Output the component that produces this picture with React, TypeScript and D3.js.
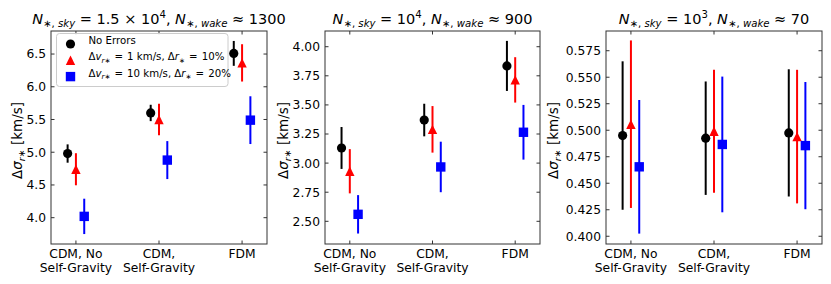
import React from "react";
import * as d3 from "d3";

// categories on the x axis (one array of lines per category)
const categoryLines = [["CDM, No", "Self-Gravity"], ["CDM,", "Self-Gravity"], ["FDM"]];
const categoryIndex = [0, 1, 2];

// N_sky = 1.5e4
const sky15kNoErrors = [4.98, 5.6, 6.51];
const sky15kNoErrorsErr = [0.14, 0.125, 0.19];
const sky15kSmall = [4.74, 5.5, 6.365];
const sky15kSmallErr = [0.245, 0.24, 0.285];
const sky15kLarge = [4.02, 4.88, 5.49];
const sky15kLargeErr = [0.27, 0.29, 0.365];

// N_sky = 1e4
const sky10kNoErrors = [3.13, 3.37, 3.835];
const sky10kNoErrorsErr = [0.18, 0.14, 0.215];
const sky10kSmall = [2.93, 3.29, 3.715];
const sky10kSmallErr = [0.19, 0.2, 0.195];
const sky10kLarge = [2.56, 2.967, 3.265];
const sky10kLargeErr = [0.165, 0.217, 0.235];

// N_sky = 1e3
const sky1kNoErrors = [0.495, 0.4925, 0.4975];
const sky1kNoErrorsErr = [0.07, 0.0535, 0.06];
const sky1kSmall = [0.5057, 0.499, 0.494];
const sky1kSmallErr = [0.079, 0.058, 0.063];
const sky1kLarge = [0.4655, 0.4866, 0.4855];
const sky1kLargeErr = [0.063, 0.064, 0.06];

// tick values
const ticks15k = [4.0, 4.5, 5.0, 5.5, 6.0, 6.5];
const ticks10k = [2.5, 2.75, 3.0, 3.25, 3.5, 3.75, 4.0];
const ticks1k = [0.4, 0.425, 0.45, 0.475, 0.5, 0.525, 0.55, 0.575];

const seriesColors = ["#000000", "#ff0000", "#0000ff"];
const seriesShapes = ["circle", "triangle", "square"];
const seriesOffsets = [-0.1, 0, 0.1];

type Seg = { t: string; it?: boolean; sub?: boolean; sup?: boolean };

const EQ = "\u2009\u2009=\u2009\u2009";

const legendLabels: Seg[][] = [
  [{ t: "No Errors" }],
  [
    { t: "Δ" }, { t: "v", it: true }, { t: "r", it: true, sub: true }, { t: "∗", sub: true },
    { t: EQ + "1 km/s, Δ" }, { t: "r", it: true }, { t: "∗", sub: true }, { t: EQ + "10%" },
  ],
  [
    { t: "Δ" }, { t: "v", it: true }, { t: "r", it: true, sub: true }, { t: "∗", sub: true },
    { t: EQ + "10 km/s, Δ" }, { t: "r", it: true }, { t: "∗", sub: true }, { t: EQ + "20%" },
  ],
];

const yLabel: Seg[] = [
  { t: "Δ" }, { t: "σ", it: true }, { t: "r", it: true, sub: true }, { t: "∗", sub: true }, { t: " [km/s]" },
];

const titleFor = (sky: Seg[], wake: string): Seg[] => [
  { t: "N", it: true }, { t: "∗, ", sub: true }, { t: "sky", sub: true, it: true },
  ...sky,
  { t: ", " },
  { t: "N", it: true }, { t: "∗, ", sub: true }, { t: "wake", sub: true, it: true },
  { t: " ≈ " + wake },
];

const FONT = "DejaVu Sans, sans-serif";

function MathSegs({ segs, size }: { segs: Seg[]; size: number }) {
  let shift = 0;
  return (
    <>
      {segs.map((s, i) => {
        const target = s.sub ? size * 0.22 : s.sup ? -size * 0.42 : 0;
        const dy = target - shift;
        shift = target;
        return (
          <tspan
            key={i}
            dy={dy}
            fontStyle={s.it ? "italic" : "normal"}
            fontSize={s.sub || s.sup ? size * 0.7 : size}
          >
            {s.t}
          </tspan>
        );
      })}
    </>
  );
}

function Marker({ shape, color, x, y }: { shape: string; color: string; x: number; y: number }) {
  if (shape === "circle") return <circle cx={x} cy={y} r={4.6} fill={color} />;
  if (shape === "square") return <rect x={x - 4.7} y={y - 4.7} width={9.4} height={9.4} fill={color} />;
  const s = 4.7;
  return <path d={`M${x},${y - s}L${x - s},${y + s}L${x + s},${y + s}Z`} fill={color} />;
}

type Panel = {
  left: number;
  right: number;
  yDomain: [number, number];
  ticks: number[];
  fmt: string;
  values: number[][];
  errs: number[][];
  title: Seg[];
  yLabelOffset: number;
  legend?: boolean;
};

const panels: Panel[] = [
  {
    left: 51, right: 267, yDomain: [3.598, 6.852], ticks: ticks15k, fmt: ".1f",
    values: [sky15kNoErrors, sky15kSmall, sky15kLarge],
    errs: [sky15kNoErrorsErr, sky15kSmallErr, sky15kLargeErr],
    title: titleFor([{ t: " = 1.5 × 10" }, { t: "4", sup: true }], "1300"),
    yLabelOffset: 29, legend: true,
  },
  {
    left: 325, right: 540, yDomain: [2.305, 4.135], ticks: ticks10k, fmt: ".2f",
    values: [sky10kNoErrors, sky10kSmall, sky10kLarge],
    errs: [sky10kNoErrorsErr, sky10kSmallErr, sky10kLargeErr],
    title: titleFor([{ t: " = 10" }, { t: "4", sup: true }], "900"),
    yLabelOffset: 37,
  },
  {
    left: 606, right: 822, yDomain: [0.3927, 0.5936], ticks: ticks1k, fmt: ".3f",
    values: [sky1kNoErrors, sky1kSmall, sky1kLarge],
    errs: [sky1kNoErrorsErr, sky1kSmallErr, sky1kLargeErr],
    title: titleFor([{ t: " = 10" }, { t: "3", sup: true }], "70"),
    yLabelOffset: 48,
  },
];

const TOP = 31;
const BOTTOM = 244;
const TICK = 3.5;
const AXIS_COLOR = "#333";

function PanelView({ p }: { p: Panel }) {
  const x = d3.scaleLinear().domain([-0.3, 2.3]).range([p.left, p.right]);
  const y = d3.scaleLinear().domain(p.yDomain).range([BOTTOM, TOP]);
  const fmt = d3.format(p.fmt);
  const cx = (p.left + p.right) / 2;
  const cy = (TOP + BOTTOM) / 2 + 3;
  return (
    <g>
      {/* error bars and markers */}
      {p.values.map((vals, si) =>
        vals.map((v, ci) => {
          const xx = x(categoryIndex[ci] + seriesOffsets[si]);
          const e = p.errs[si][ci];
          return (
            <g key={`${si}-${ci}`}>
              <line x1={xx} x2={xx} y1={y(v - e)} y2={y(v + e)} stroke={seriesColors[si]} strokeWidth={2} />
              <Marker shape={seriesShapes[si]} color={seriesColors[si]} x={xx} y={y(v)} />
            </g>
          );
        })
      )}
      {/* y ticks on both sides */}
      {p.ticks.map((t) => (
        <g key={t}>
          <line x1={p.left} x2={p.left + TICK} y1={y(t)} y2={y(t)} stroke={AXIS_COLOR} />
          <line x1={p.right} x2={p.right - TICK} y1={y(t)} y2={y(t)} stroke={AXIS_COLOR} />
          <text x={p.left - 5} y={y(t)} dy="0.36em" textAnchor="end" fontSize={12.3} fontFamily={FONT}>
            {fmt(t)}
          </text>
        </g>
      ))}
      {/* x ticks on top and bottom */}
      {categoryIndex.map((c) => (
        <g key={c}>
          <line x1={x(c)} x2={x(c)} y1={BOTTOM} y2={BOTTOM - TICK} stroke={AXIS_COLOR} />
          <line x1={x(c)} x2={x(c)} y1={TOP} y2={TOP + TICK} stroke={AXIS_COLOR} />
          {categoryLines[c].map((line, li) => (
            <text key={li} x={x(c)} y={258 + li * 14} textAnchor="middle" fontSize={12.3} fontFamily={FONT}>
              {line}
            </text>
          ))}
        </g>
      ))}
      <rect x={p.left} y={TOP} width={p.right - p.left} height={BOTTOM - TOP} fill="none" stroke={AXIS_COLOR} strokeWidth={1} />
      <text x={cx} y={24} textAnchor="middle" fontSize={14.5} fontFamily={FONT} style={{ whiteSpace: "pre" }}>
        <MathSegs segs={p.title} size={14.5} />
      </text>
      <text
        transform={`translate(${p.left - p.yLabelOffset},${cy}) rotate(-90)`}
        textAnchor="middle"
        fontSize={13.5}
        fontFamily={FONT}
        style={{ whiteSpace: "pre" }}
      >
        <MathSegs segs={yLabel} size={13.5} />
      </text>
      {p.legend && (
        <g>
          <rect x={p.left + 5.5} y={TOP + 2.5} width={171.5} height={53} rx={3} fill="white" fillOpacity={0.8} stroke="#ccc" />
          {legendLabels.map((lab, i) => (
            <g key={i}>
              <Marker shape={seriesShapes[i]} color={seriesColors[i]} x={p.left + 19.5} y={TOP + 13 + i * 16.3} />
              <text x={p.left + 37.5} y={TOP + 13 + i * 16.3} dy="0.36em" fontSize={10.2} fontFamily={FONT} style={{ whiteSpace: "pre" }}>
                <MathSegs segs={lab} size={10.2} />
              </text>
            </g>
          ))}
        </g>
      )}
    </g>
  );
}

export default function App() {
  return (
    <svg width={831} height={284} style={{ position: "absolute", left: 0, top: 0, background: "white" }}>
      {panels.map((p, i) => (
        <PanelView key={i} p={p} />
      ))}
    </svg>
  );
}
